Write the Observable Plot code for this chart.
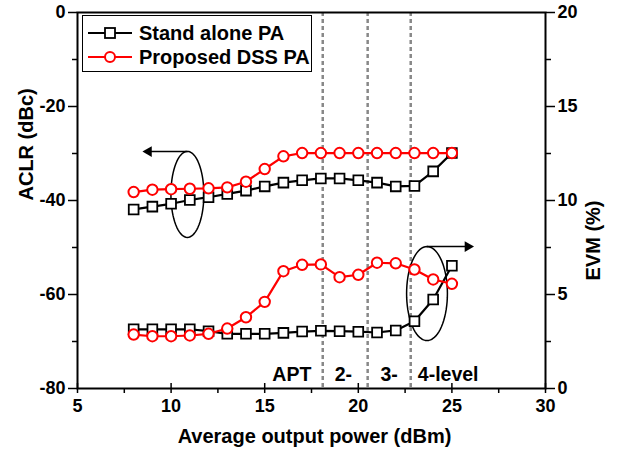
<!DOCTYPE html>
<html>
<head>
<meta charset="utf-8">
<script src="https://cdn.jsdelivr.net/npm/d3@7"></script>
<script src="https://cdn.jsdelivr.net/npm/@observablehq/plot@0.6"></script>
<style>
  html, body { margin: 0; padding: 0; background: #fff; }
  #wrap { position: relative; width: 618px; height: 457px; font-family: "Liberation Sans", Arial, sans-serif; font-weight: bold; }
  #legend { position: absolute; left: 82px; top: 15px; width: 230px; height: 57px; border: 1.5px solid #000; background: #fff; box-sizing: border-box; }
  .row { position: absolute; left: 4px; height: 22px; display: flex; align-items: center; font-size: 20px; white-space: nowrap; }
  .row svg { margin-right: 6px; }
</style>
</head>
<body>
<div id="wrap"></div>
<script>
// ---- data ----
const powers = [8, 9, 10, 11, 12, 13, 14, 15, 16, 17, 18, 19, 20, 21, 22, 23, 24, 25];
const aclrStandalone = [-41.9, -41.3, -40.7, -39.9, -39.3, -38.6, -37.9, -37.0, -36.2, -35.7, -35.3, -35.3, -35.7, -36.2, -37.0, -36.9, -33.8, -29.9];
const aclrProposed   = [-38.2, -37.7, -37.6, -37.5, -37.4, -37.2, -36.0, -33.3, -30.6, -29.9, -29.9, -29.9, -29.9, -29.9, -29.9, -29.9, -29.9, -29.9];
const evmStandalone  = [3.15, 3.15, 3.15, 3.15, 3.05, 2.91, 2.91, 2.91, 2.96, 3.03, 3.07, 3.05, 3.02, 2.98, 3.09, 3.58, 4.73, 6.53];
const evmProposed    = [2.87, 2.78, 2.78, 2.82, 2.91, 3.19, 3.79, 4.61, 6.24, 6.58, 6.60, 5.92, 6.05, 6.69, 6.66, 6.33, 5.80, 5.57];

const xTicks = [5, 10, 15, 20, 25, 30];
const xMinorTicks = [7.5, 12.5, 17.5, 22.5, 27.5];
const aclrTicks = [-80, -60, -40, -20, 0];
const aclrMinorTicks = [-70, -50, -30, -10];
const evmTicks = [0, 5, 10, 15, 20];
const evmMinorTicks = [2.5, 7.5, 12.5, 17.5];

const phaseBoundaries = [18.1, 20.5, 22.8];
const phaseNames = ["APT", "2-", "3-", "4-level"];
const phaseNameX = [16.45, 19.2, 21.65, 24.8];
const phaseNameY = -77.0;

// annotation ellipses (x center, y center in ACLR units, radii)
const ellipseNames = ["aclr", "evm"];
const ellipseCx = [10.87, 23.67];
const ellipseCy = [-38.7, -59.8];
const ellipseRx = [0.88, 1.09];
const ellipseRy = [9.15, 10.0];
// arrows
const arrowX1 = [10.87, 23.67];
const arrowX2 = [8.8, 25.85];
const arrowY = [-29.6, -49.8];
const arrowRotate = [-90, 90];

// ---- derived ----
const evmToY = e => e * 4 - 80;     // EVM 0..20 onto ACLR -80..0
const yToEvm = y => (y + 80) / 4;

const black = powers.map((x, i) => ({x, aclr: aclrStandalone[i], evm: evmToY(evmStandalone[i])}));
const red = powers.map((x, i) => ({x, aclr: aclrProposed[i], evm: evmToY(evmProposed[i])}));

const ellipsePts = [];
ellipseNames.forEach((n, k) => {
  for (let i = 0; i <= 72; i++) {
    const t = (i / 72) * 2 * Math.PI;
    ellipsePts.push({g: n, x: ellipseCx[k] + ellipseRx[k] * Math.cos(t), y: ellipseCy[k] + ellipseRy[k] * Math.sin(t)});
  }
});
const arrows = arrowX1.map((x1, i) => ({x1, x2: arrowX2[i], y: arrowY[i], rot: arrowRotate[i]}));
const labels = phaseNames.map((t, i) => ({t, x: phaseNameX[i], y: phaseNameY}));

const fmt = d => String(d);

const chart = Plot.plot({
  width: 618,
  height: 457,
  marginLeft: 77,
  marginRight: 73,
  marginTop: 12,
  marginBottom: 69,
  style: {fontFamily: "'Liberation Sans', Arial, sans-serif", fontWeight: "bold", fontSize: "18px", color: "#000", background: "#fff"},
  x: {domain: [5, 30]},
  y: {domain: [-80, 0]},
  marks: [
    Plot.ruleX(phaseBoundaries, {stroke: "#888", strokeWidth: 2.5, strokeDasharray: "4,3"}),
    // bottom axis
    Plot.axisX({ticks: xTicks, tickFormat: fmt, tickSize: 5, tickPadding: 6, strokeWidth: 1.5, fontSize: 18, label: null}),
    Plot.axisX({ticks: xTicks, tickSize: -5, tickFormat: () => "", strokeWidth: 1.5, label: null}),
    Plot.axisX({ticks: xMinorTicks, tickSize: 5, tickFormat: () => "", strokeWidth: 1.5, label: null}),
    // left axis
    Plot.axisY({ticks: aclrTicks, tickFormat: fmt, tickSize: 9, tickPadding: 3, strokeWidth: 1.5, fontSize: 18, label: null}),
    Plot.axisY({ticks: aclrMinorTicks, tickSize: 5, tickFormat: () => "", strokeWidth: 1.5, label: null}),
    // right axis (EVM)
    Plot.axisY({anchor: "right", ticks: evmTicks.map(evmToY), tickFormat: d => fmt(yToEvm(d)), tickSize: 9, tickPadding: 3, strokeWidth: 1.5, fontSize: 18, label: null}),
    Plot.axisY({anchor: "right", ticks: evmMinorTicks.map(evmToY), tickSize: 5, tickFormat: () => "", strokeWidth: 1.5, label: null}),
    Plot.frame({stroke: "#000", strokeWidth: 2}),
    // axis titles
    Plot.text(["Average output power (dBm)"], {frameAnchor: "bottom", dy: 54, dx: 3, fontSize: 20, fontWeight: "bold", fill: "#000"}),
    Plot.text(["ACLR (dBc)"], {frameAnchor: "left", dx: -51, rotate: -90, fontSize: 20, fontWeight: "bold", fill: "#000"}),
    Plot.text(["EVM (%)"], {frameAnchor: "right", dx: 48, rotate: -90, fontSize: 20, fontWeight: "bold", fill: "#000"}),
    // annotations
    Plot.line(ellipsePts, {x: "x", y: "y", z: "g", stroke: "#000", strokeWidth: 1.5}),
    Plot.link(arrows, {x1: "x1", x2: "x2", y1: "y", y2: "y", stroke: "#000", strokeWidth: 1.5}),
    Plot.dot(arrows, {x: "x2", y: "y", symbol: "triangle", rotate: "rot", r: 4, fill: "#000", stroke: "none"}),
    Plot.text(labels, {x: "x", y: "y", text: "t", fontSize: 19.5, fontWeight: "bold", fill: "#000"}),
    // series
    Plot.line(black, {x: "x", y: "aclr", stroke: "#000", strokeWidth: 2.2}),
    Plot.line(black, {x: "x", y: "evm", stroke: "#000", strokeWidth: 2.2}),
    Plot.dot(black, {x: "x", y: "aclr", symbol: "square", r: 5.5, stroke: "#000", fill: "#fff", strokeWidth: 1.8}),
    Plot.dot(black, {x: "x", y: "evm", symbol: "square", r: 5.5, stroke: "#000", fill: "#fff", strokeWidth: 1.8}),
    Plot.line(red, {x: "x", y: "aclr", stroke: "#ff0000", strokeWidth: 2.2}),
    Plot.line(red, {x: "x", y: "evm", stroke: "#ff0000", strokeWidth: 2.2}),
    Plot.dot(red, {x: "x", y: "aclr", r: 5.2, stroke: "#ff0000", fill: "#fff", strokeWidth: 2}),
    Plot.dot(red, {x: "x", y: "evm", r: 5.2, stroke: "#ff0000", fill: "#fff", strokeWidth: 2})
  ]
});

const wrap = document.getElementById("wrap");
wrap.appendChild(chart);

const legend = document.createElement("div");
legend.id = "legend";
legend.innerHTML = `
  <div class="row" style="top:6px">
    <svg width="46" height="14"><line x1="1" y1="7" x2="45" y2="7" stroke="#000" stroke-width="2.2"/><rect x="18" y="2" width="10" height="10" fill="#fff" stroke="#000" stroke-width="1.8"/></svg>Stand alone PA
  </div>
  <div class="row" style="top:30px">
    <svg width="46" height="14"><line x1="1" y1="7" x2="45" y2="7" stroke="#ff0000" stroke-width="2.2"/><circle cx="23" cy="7" r="5" fill="#fff" stroke="#ff0000" stroke-width="2"/></svg>Proposed DSS PA
  </div>`;
wrap.appendChild(legend);
</script>
</body>
</html>
